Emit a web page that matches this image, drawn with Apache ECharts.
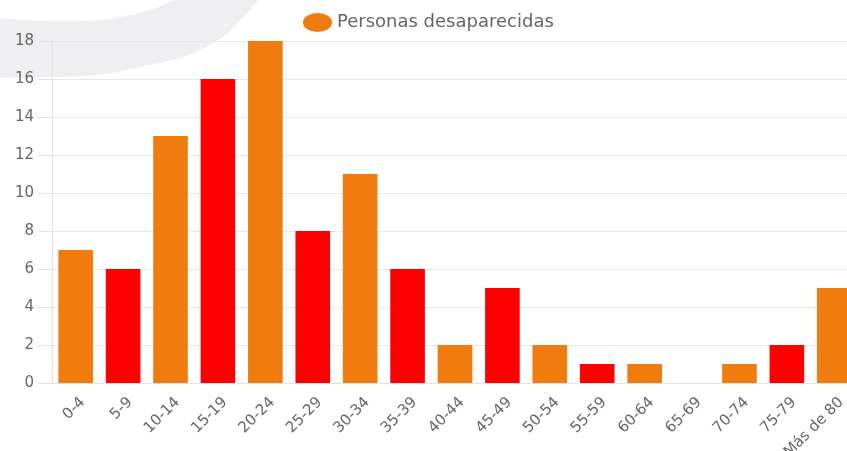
<!DOCTYPE html>
<html>
<head>
<meta charset="utf-8">
<script src="https://cdn.jsdelivr.net/npm/echarts@6/dist/echarts.min.js"></script>
<style>
html,body{margin:0;padding:0;background:#fff;}
#chart{width:847px;height:451px;}
</style>
</head>
<body>
<div id="chart"></div>
<script>
const categories = ['0-4','5-9','10-14','15-19','20-24','25-29','30-34','35-39','40-44','45-49','50-54','55-59','60-64','65-69','70-74','75-79','Más de 80'];
const values = [7,6,13,16,18,8,11,6,2,5,2,1,1,0,1,2,5];
const seriesName = 'Personas desaparecidas';
const ORANGE = '#f07b0f';
const RED = '#ff0000';
const barColors = categories.map((c, i) => (i % 2 === 0 ? ORANGE : RED));
const yMin = 0, yMax = 18, yStep = 2;

const FONT = 'DejaVu Sans';
const chart = echarts.init(document.getElementById('chart'), null, {renderer: 'canvas'});

// decorative background swoosh (top-left corner)
const decoPoints = [
  [-2,78],[30,77.5],[60,77],[85,76],[100,75],[115,72.5],[130,69],[145,66],[160,63],[170,60.5],[180,58],
  [190,54.5],[200,50],[207,46.5],[213,43],[221,38],[228,33],[234,27],[240,20],[245,15],[250,10],[254,5],[258,0],[258,-2],
  [173,-2],[173,0],[168,2.5],[163,5],[157,7.5],[150,10],[138,13.5],[125,16],[112,18.5],[100,20],[75,21],[50,21],[25,20],[-2,18]
];

chart.setOption({
  animation: false,
  backgroundColor: '#ffffff',
  graphic: [{
    type: 'polygon',
    z: -10,
    silent: true,
    shape: {points: decoPoints},
    style: {fill: '#efeff2'}
  }],
  legend: {
    data: [{name: seriesName, icon: 'path://M14.5,0A14.5,9.5,0,1,1,14.5,19A14.5,9.5,0,1,1,14.5,0Z'}],
    left: 298,
    top: 8,
    itemWidth: 29,
    itemHeight: 19,
    itemGap: 6,
    textStyle: {fontFamily: FONT, fontSize: 18, color: '#666666'}
  },
  grid: {left: 52, top: 41, width: 806, height: 342, containLabel: false, outerBoundsMode: 'none'},
  xAxis: {
    type: 'category',
    data: categories,
    axisLine: {show: true, lineStyle: {color: '#e3e3e3', width: 1}},
    axisTick: {show: false},
    splitLine: {show: false},
    axisLabel: {
      interval: 0,
      rotate: 45,
      margin: 24,
      padding: [0, -10, 0, 0],
      fontFamily: FONT,
      fontSize: 15,
      color: '#666666'
    }
  },
  yAxis: {
    type: 'value',
    min: yMin,
    max: yMax,
    interval: yStep,
    axisLine: {show: true, lineStyle: {color: '#e3e3e3', width: 1}},
    axisTick: {show: true, length: 14, lineStyle: {color: '#e3e3e3'}},
    splitLine: {show: true, lineStyle: {color: '#e8e8e8', width: 1}},
    axisLabel: {margin: 18, fontFamily: FONT, fontSize: 15, color: '#666666'}
  },
  series: [{
    name: seriesName,
    type: 'bar',
    barCategoryGap: '27%',
    itemStyle: {color: ORANGE},
    data: values.map((v, i) => ({value: v, itemStyle: {color: barColors[i]}}))
  }]
});
</script>
</body>
</html>
